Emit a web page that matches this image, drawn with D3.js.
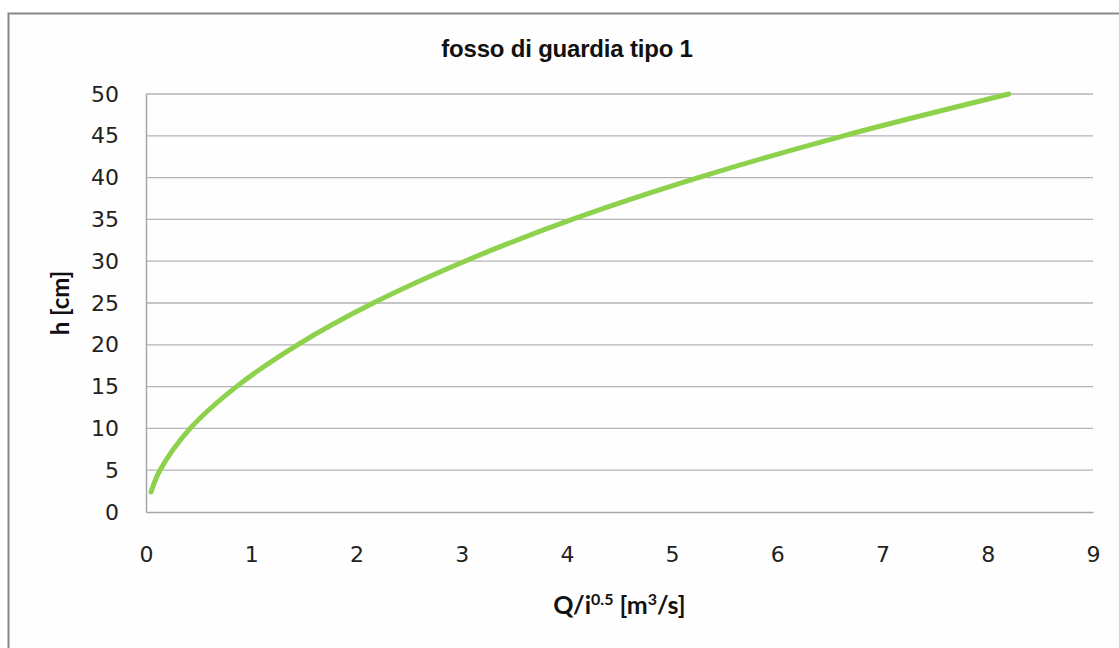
<!DOCTYPE html>
<html>
<head>
<meta charset="utf-8">
<script src="https://cdn.jsdelivr.net/npm/d3@7"></script>
<style>
  html, body { margin: 0; padding: 0; background: #ffffff; }
  svg { display: block; }
</style>
</head>
<body>
<svg id="chart" width="1119" height="648"></svg>
<script>
// Rating curve of the guard ditch: discharge parameter vs. water depth
const qValues = [0.048, 0.133, 0.42, 0.86, 1.44, 2.16, 3.03, 4.05, 5.25, 6.63, 8.20];
const hValues = [2.4, 5, 10, 15, 20, 25, 30, 35, 40, 45, 50];
const xTicks = [0, 1, 2, 3, 4, 5, 6, 7, 8, 9];
const yTicks = [0, 5, 10, 15, 20, 25, 30, 35, 40, 45, 50];
const titleText = "fosso di guardia tipo 1";
const yTitle = "h [cm]";

const svg = d3.select("#chart");
const plot = { left: 146, right: 1093, top: 94, bottom: 512 };

// chart frame
svg.append("rect")
  .attr("x", 8.5).attr("y", 13.5)
  .attr("width", 1130).attr("height", 660)
  .attr("fill", "#fefefe")
  .attr("stroke", "#888888").attr("stroke-width", 2);

const x = d3.scaleLinear().domain([0, 9]).range([plot.left, plot.right]);
const y = d3.scaleLinear().domain([0, 50]).range([plot.bottom, plot.top]);

// horizontal gridlines
svg.append("g")
  .selectAll("line")
  .data(yTicks.filter(d => d > 0))
  .join("line")
  .attr("x1", plot.left).attr("x2", plot.right)
  .attr("y1", d => y(d)).attr("y2", d => y(d))
  .attr("stroke", "#b3b3b3").attr("stroke-width", 1.3);

// y axis
const yAxis = svg.append("g")
  .attr("transform", `translate(${plot.left},0)`)
  .call(d3.axisLeft(y).tickValues(yTicks).tickSize(0).tickPadding(27));
yAxis.select(".domain").attr("stroke", "#a6a6a6").attr("stroke-width", 1.5);
yAxis.selectAll("text")
  .attr("font-family", "DejaVu Sans").attr("font-size", 22).attr("fill", "#222");

// x axis
const xAxis = svg.append("g")
  .attr("transform", `translate(0,${plot.bottom})`)
  .call(d3.axisBottom(x).tickValues(xTicks).tickSize(0).tickPadding(34));
xAxis.select(".domain").attr("stroke", "#a6a6a6").attr("stroke-width", 1.5);
xAxis.selectAll("text")
  .attr("font-family", "DejaVu Sans").attr("font-size", 22).attr("fill", "#222");

// rating curve
const pts = qValues.map((q, i) => [q, hValues[i]]);
svg.append("path")
  .datum(pts)
  .attr("fill", "none")
  .attr("stroke", "#8dd14c")
  .attr("stroke-width", 5)
  .attr("stroke-linecap", "round")
  .attr("stroke-linejoin", "round")
  .attr("d", d3.line().x(d => x(d[0])).y(d => y(d[1])).curve(d3.curveCatmullRom.alpha(0.5)));

// title
svg.append("text")
  .attr("x", 567).attr("y", 57)
  .attr("text-anchor", "middle")
  .attr("font-family", "Liberation Sans").attr("font-weight", "bold")
  .attr("font-size", 24).attr("letter-spacing", -0.2).attr("fill", "#111")
  .text(titleText);

// y axis title
svg.append("text")
  .attr("transform", `translate(69,${(plot.top + plot.bottom) / 2}) rotate(-90)`)
  .attr("text-anchor", "middle")
  .attr("font-family", "Lato").attr("font-weight", "bold")
  .attr("font-size", 24).attr("fill", "#111")
  .text(yTitle);

// x axis title with superscripts
const xt = svg.append("text")
  .attr("x", (plot.left + plot.right) / 2).attr("y", 614)
  .attr("text-anchor", "middle")
  .attr("font-family", "Lato").attr("font-weight", "bold")
  .attr("font-size", 25).attr("fill", "#111");
xt.append("tspan").text("Q/i");
xt.append("tspan").attr("font-size", 16).attr("dy", -9).text("0.5");
xt.append("tspan").attr("dy", 9).text(" [m");
xt.append("tspan").attr("font-size", 16).attr("dy", -9).text("3");
xt.append("tspan").attr("dy", 9).text("/s]");
</script>
</body>
</html>
